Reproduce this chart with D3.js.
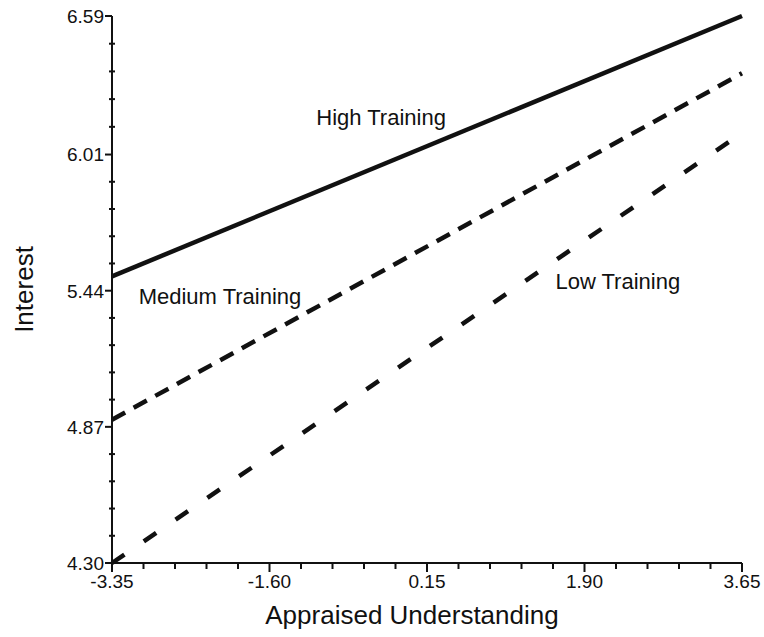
<!DOCTYPE html>
<html>
<head>
<meta charset="utf-8">
<script src="https://cdn.jsdelivr.net/npm/d3@7"></script>
<style>
  html, body { margin: 0; padding: 0; background: #fff; }
  svg { display: block; font-family: "Liberation Sans", Arial, Helvetica, sans-serif; }
  text.ticklabel { font-size: 19px; }
</style>
</head>
<body>
<svg id="chart" width="764" height="637"></svg>
<script>
// Axis ticks
const xTicks = [-3.35, -1.60, 0.15, 1.90, 3.65];
const yTicks = [4.30, 4.87, 5.44, 6.01, 6.59];

// Predicted interest at low and high appraised understanding
const xEnds = [-3.35, 3.65];
const highTraining = [5.50, 6.59];
const mediumTraining = [4.90, 6.35];
const lowTraining = [4.30, 6.10];

const seriesNames = ["High Training", "Medium Training", "Low Training"];

const svg = d3.select("#chart");

const x = d3.scaleLinear().domain([-3.35, 3.65]).range([112, 742]);
const y = d3.scaleLinear().domain([4.30, 6.59]).range([563, 16]);

const ink = "#111";

// Minor tick positions: four between each pair of major ticks
function minors(ticks) {
  const out = [];
  for (let i = 0; i < ticks.length - 1; i++) {
    const a = ticks[i], b = ticks[i + 1];
    for (let k = 1; k < 5; k++) out.push(a + (b - a) * k / 5);
  }
  return out;
}

// ----- Y axis -----
const yAxis = svg.append("g").attr("transform", `translate(${x.range()[0]},0)`);
yAxis.append("line")
  .attr("x1", 0).attr("x2", 0)
  .attr("y1", y.range()[1]).attr("y2", y.range()[0])
  .attr("stroke", ink).attr("stroke-width", 2);
yAxis.selectAll("line.major").data(yTicks).join("line")
  .attr("class", "major")
  .attr("x1", -7).attr("x2", 0)
  .attr("y1", d => y(d)).attr("y2", d => y(d))
  .attr("stroke", ink).attr("stroke-width", 2);
yAxis.selectAll("line.minor").data(minors(yTicks)).join("line")
  .attr("class", "minor")
  .attr("x1", -3).attr("x2", 3)
  .attr("y1", d => y(d)).attr("y2", d => y(d))
  .attr("stroke", ink).attr("stroke-width", 2);
yAxis.selectAll("text.ticklabel").data(yTicks).join("text")
  .attr("class", "ticklabel")
  .attr("x", -8).attr("y", d => y(d))
  .attr("dy", "0.36em")
  .attr("text-anchor", "end")
  .attr("font-size", "19px")
  .attr("fill", ink)
  .text(d => d.toFixed(2));

// ----- X axis -----
const xAxis = svg.append("g").attr("transform", `translate(0,${y.range()[0]})`);
xAxis.append("line")
  .attr("x1", x.range()[0]).attr("x2", x.range()[1])
  .attr("y1", 0).attr("y2", 0)
  .attr("stroke", ink).attr("stroke-width", 2);
xAxis.selectAll("line.major").data(xTicks).join("line")
  .attr("class", "major")
  .attr("x1", d => x(d)).attr("x2", d => x(d))
  .attr("y1", 0).attr("y2", 9)
  .attr("stroke", ink).attr("stroke-width", 2);
xAxis.selectAll("line.minor").data(minors(xTicks)).join("line")
  .attr("class", "minor")
  .attr("x1", d => x(d)).attr("x2", d => x(d))
  .attr("y1", 0).attr("y2", 6)
  .attr("stroke", ink).attr("stroke-width", 2);
xAxis.selectAll("text.ticklabel").data(xTicks).join("text")
  .attr("class", "ticklabel")
  .attr("x", d => x(d)).attr("y", 25)
  .attr("text-anchor", "middle")
  .attr("font-size", "19px")
  .attr("fill", ink)
  .text(d => d.toFixed(2));

// ----- Axis titles -----
svg.append("text")
  .attr("x", 412)
  .attr("y", 624)
  .attr("text-anchor", "middle")
  .attr("font-size", "26px")
  .attr("fill", ink)
  .text("Appraised Understanding");

svg.append("text")
  .attr("transform", `translate(33,${(y.range()[0] + y.range()[1]) / 2}) rotate(-90)`)
  .attr("text-anchor", "middle")
  .attr("font-size", "26px")
  .attr("fill", ink)
  .text("Interest");

// ----- Simple slopes -----
const line = d3.line().x(d => x(d[0])).y(d => y(d[1]));
const series = [
  { name: seriesNames[0], values: highTraining, dash: null },
  { name: seriesNames[1], values: mediumTraining, dash: "15,9.7" },
  { name: seriesNames[2], values: lowTraining, dash: "15,23.5" }
];
svg.append("g").selectAll("path").data(series).join("path")
  .attr("d", s => line(xEnds.map((xv, i) => [xv, s.values[i]])))
  .attr("fill", "none")
  .attr("stroke", ink)
  .attr("stroke-width", 4.5)
  .attr("stroke-dasharray", s => s.dash);

// ----- Line labels (anchored in data space) -----
const labelPos = [
  { x: -0.36, y: 6.134 },  // High
  { x: -2.15, y: 5.384 },  // Medium
  { x: 2.27, y: 5.447 }    // Low
];
svg.append("g").selectAll("text").data(series).join("text")
  .attr("x", (d, i) => x(labelPos[i].x))
  .attr("y", (d, i) => y(labelPos[i].y))
  .attr("text-anchor", "middle")
  .attr("font-size", "22px")
  .attr("fill", ink)
  .text(d => d.name);
</script>
</body>
</html>
